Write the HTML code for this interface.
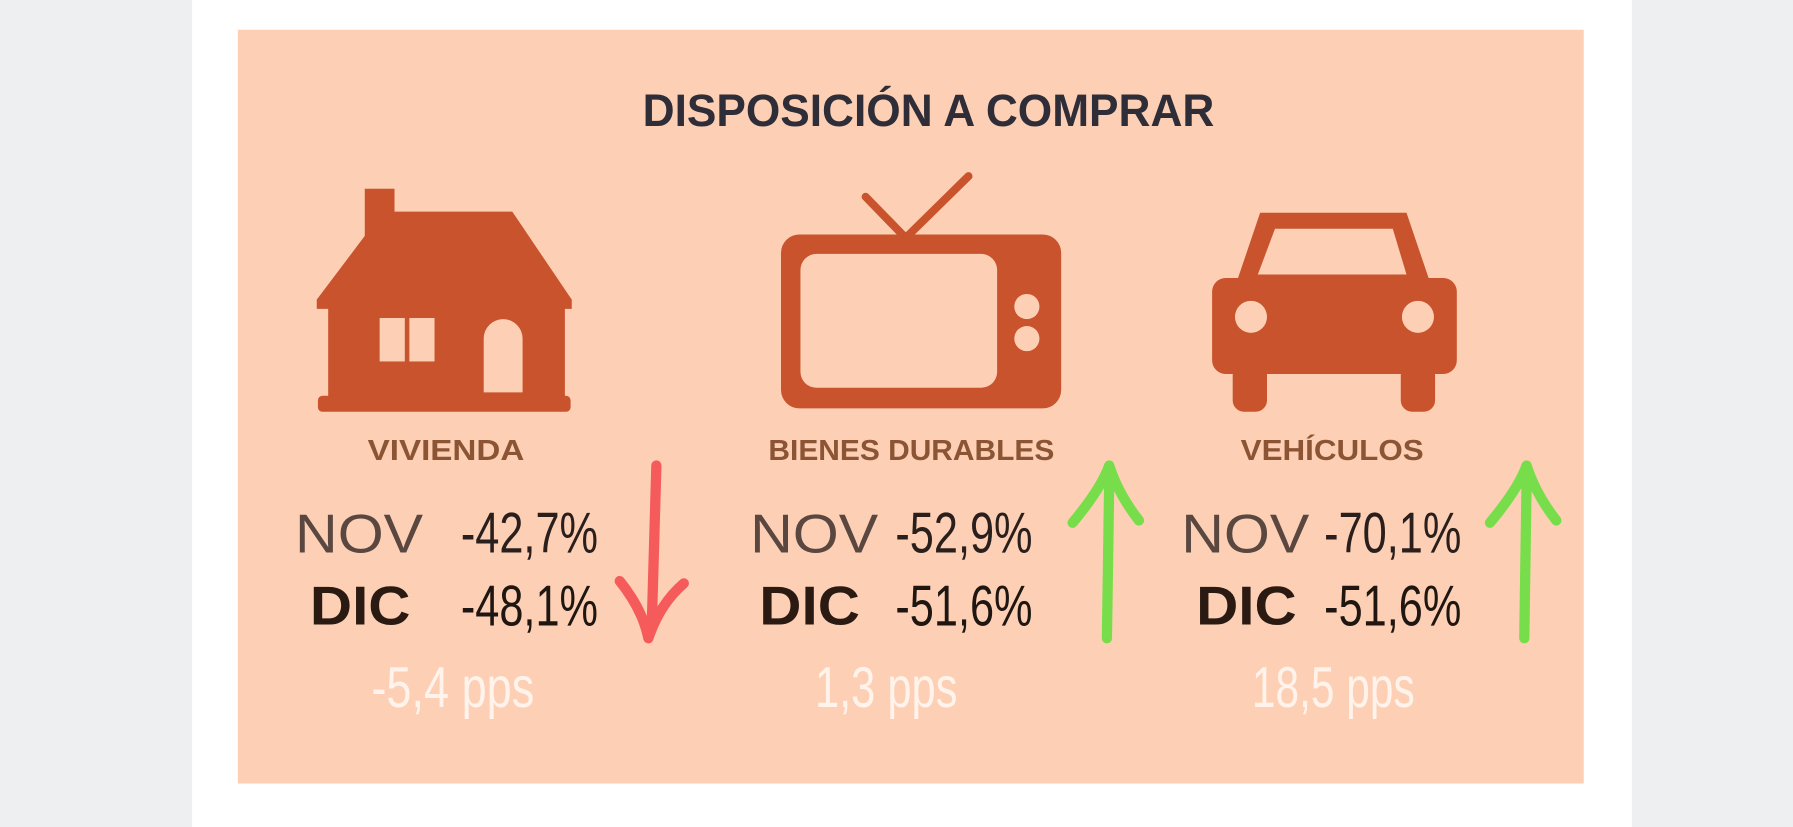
<!DOCTYPE html>
<html><head><meta charset="utf-8"><style>
html,body{margin:0;padding:0;background:#eeeff1;}
svg{display:block}
</style></head><body>
<svg width="1793" height="827" viewBox="0 0 1568 723" preserveAspectRatio="none" xmlns="http://www.w3.org/2000/svg">
<rect x="0" y="0" width="1568" height="723" fill="#eeeff1"/>
<rect x="168" y="0" width="1259" height="723" fill="#ffffff"/>
<rect x="208" y="26" width="1177" height="659" fill="#fdd0b5"/>
<text x="812" y="110" text-anchor="middle" font-family="Liberation Sans, sans-serif" font-weight="bold" font-size="40" fill="#2e2d38" textLength="500" lengthAdjust="spacingAndGlyphs">DISPOSICIÓN A COMPRAR</text>
<g fill="#c9532c">
<rect x="319" y="165" width="26" height="50"/>
<polygon points="335,185 448,185 500,262 500,270 277,270 277,262"/>
<rect x="287" y="265" width="207" height="85"/>
<rect x="278" y="346" width="221" height="14" rx="4"/>
<rect x="332" y="278" width="22" height="38" fill="#fdd0b5"/>
<rect x="358" y="278" width="22" height="38" fill="#fdd0b5"/>
<path d="M423,343 V296 a17,17 0 0 1 34,0 V343 Z" fill="#fdd0b5"/>
</g>
<g>
<line x1="757" y1="172" x2="792" y2="208" stroke="#c9532c" stroke-width="7" stroke-linecap="round"/>
<line x1="792" y1="208" x2="847" y2="154" stroke="#c9532c" stroke-width="7" stroke-linecap="round"/>
<rect x="683" y="205" width="245" height="152" rx="16" fill="#c9532c"/>
<rect x="700" y="222" width="172" height="117" rx="14" fill="#fdd0b5"/>
<circle cx="898" cy="268" r="11" fill="#fdd0b5"/>
<circle cx="898" cy="296" r="11" fill="#fdd0b5"/>
</g>
<g fill="#c9532c">
<path d="M1102,186 H1230 L1250,245 H1082 Z"/>
<path d="M1115,200 H1218 L1230,240 H1100 Z" fill="#fdd0b5"/>
<rect x="1060" y="243" width="214" height="84" rx="12"/>
<rect x="1078" y="318" width="30" height="42" rx="10"/>
<rect x="1225" y="318" width="30" height="42" rx="10"/>
<circle cx="1094" cy="277" r="14" fill="#fdd0b5"/>
<circle cx="1240" cy="277" r="14" fill="#fdd0b5"/>
</g>
<g id="cols"></g>
</svg>
<script>
const categories = ["VIVIENDA", "BIENES DURABLES", "VEHÍCULOS"];
const novValues = ["-42,7%", "-52,9%", "-70,1%"];
const dicValues = ["-48,1%", "-51,6%", "-51,6%"];
const diffValues = [-5.4, 1.3, 18.5];
const colCenters = [390, 797, 1165];
const arrowX = [572, 968, 1333];
const NS = "http://www.w3.org/2000/svg";
const g = document.getElementById("cols");
function mk(tag, attrs, txt){const e=document.createElementNS(NS,tag);for(const k in attrs)e.setAttribute(k,attrs[k]);if(txt!==undefined)e.textContent=txt;g.appendChild(e);return e;}
const fmt = v => v.toFixed(1).replace(".", ",") + " pps";
const labelW = [137, 250, 160];
const novX = [-132, -141, -132];
const dicX = [-119, -133, -119];
const valX = [13, -14, -7];
const ppsX = [6, -22, 1];
categories.forEach((c,i)=>{
  const cx = colCenters[i];
  const lab = mk("text",{x:cx,y:402,"text-anchor":"middle","font-family":"Liberation Sans, sans-serif","font-weight":"bold","font-size":"25",fill:"#8b5535",textLength:labelW[i],lengthAdjust:"spacingAndGlyphs"},c);
  
  
  const nov = mk("text",{x:cx+novX[i],y:483,"font-family":"Liberation Sans, sans-serif","font-size":"48",fill:"#5a4740",textLength:"112",lengthAdjust:"spacingAndGlyphs"},"NOV");
  
  
  const nv = mk("text",{x:cx+valX[i],y:483,"font-family":"Liberation Sans, sans-serif","font-size":"50",fill:"#2a1f1c",textLength:"120",lengthAdjust:"spacingAndGlyphs"},novValues[i]);
  
  
  const dic = mk("text",{x:cx+dicX[i],y:546,"font-family":"Liberation Sans, sans-serif","font-weight":"bold","font-size":"48",fill:"#2a1a12",textLength:"88",lengthAdjust:"spacingAndGlyphs"},"DIC");
  
  
  const dv = mk("text",{x:cx+valX[i],y:547,"font-family":"Liberation Sans, sans-serif","font-size":"50",fill:"#1f1612",textLength:"120",lengthAdjust:"spacingAndGlyphs"},dicValues[i]);
  
  
  const d = mk("text",{x:cx+ppsX[i],y:618,"text-anchor":"middle","font-family":"Liberation Sans, sans-serif","font-size":"50",fill:"#fff3ec"},fmt(diffValues[i]));
  d.setAttribute('textLength', String(fmt(diffValues[i]).length*17.8));
  d.setAttribute('lengthAdjust', 'spacingAndGlyphs');
  
  
  const ax = arrowX[i];
  const up = diffValues[i] >= 0;
  const col = up ? "#78dd4a" : "#f65b5b";
  const yTop = 407, yBot = 558;
  let path;
  if(up){
    path = `M${ax},${yBot} L${ax+2},${yTop+15} M${ax-30},${yTop+50} Q${ax-5},${yTop+20} ${ax+2},${yTop} Q${ax+10},${yTop+25} ${ax+28},${yTop+48}`;
  } else {
    path = `M${ax+2},${yTop} L${ax-2},${yBot-12} M${ax-30},${yBot-50} Q${ax-10},${yBot-25} ${ax-5},${yBot} Q${ax+5},${yBot-30} ${ax+26},${yBot-48}`;
  }
  const ar = mk("path",{d:path,stroke:col,"stroke-width":"9","stroke-linecap":"round","stroke-linejoin":"round",fill:"none"});
  
  
});
</script>
</body></html>
